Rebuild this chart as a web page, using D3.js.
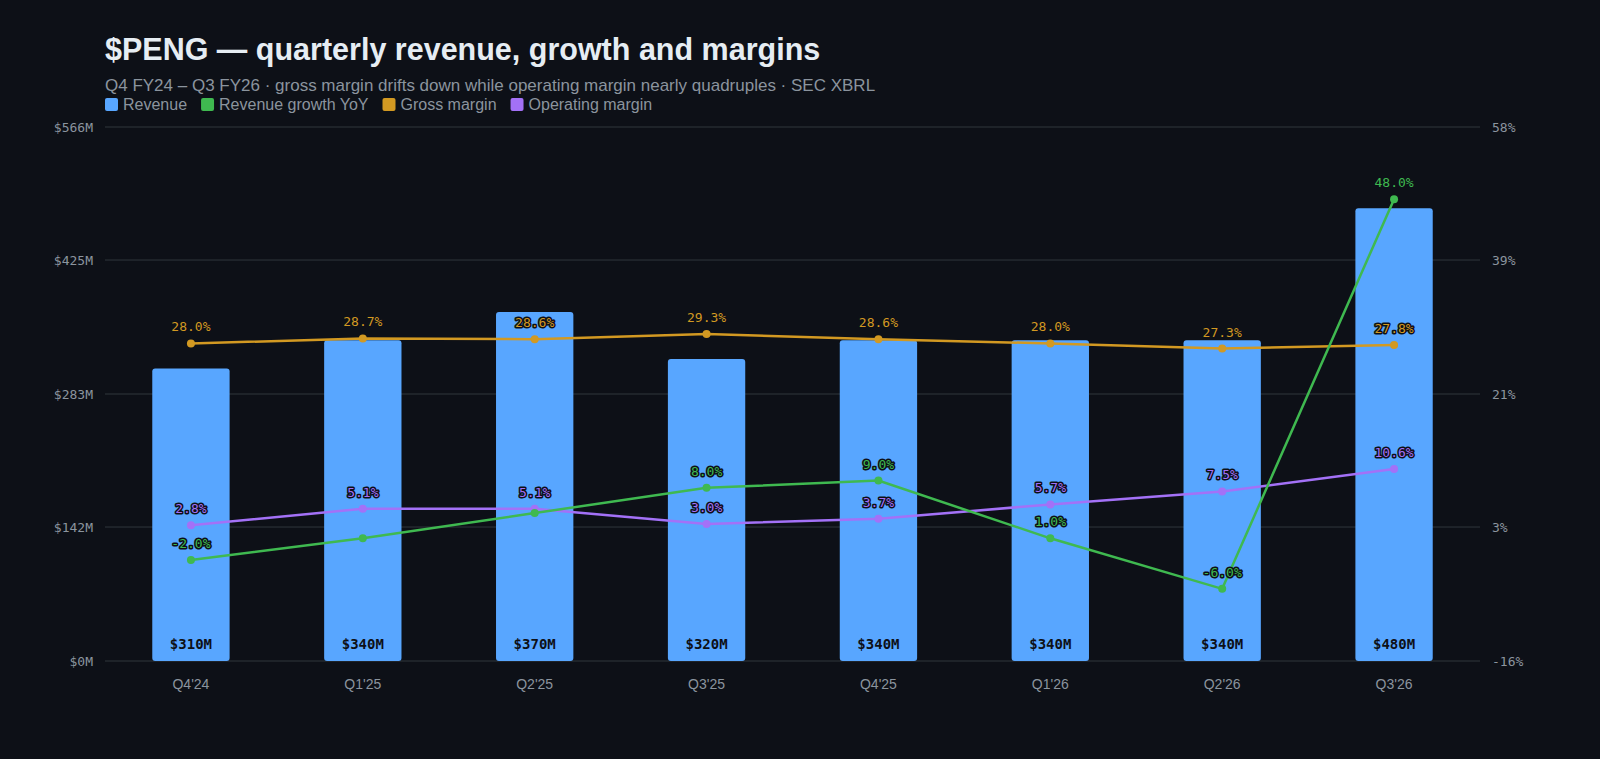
<!DOCTYPE html>
<html><head><meta charset="utf-8">
<script src="https://cdn.jsdelivr.net/npm/d3@7"></script>
<style>body{margin:0;background:#0d1017;}svg{display:block}</style>
</head><body><svg id="c" width="1600" height="759"></svg>
<script>
const quarters=["Q4'24","Q1'25","Q2'25","Q3'25","Q4'25","Q1'26","Q2'26","Q3'26"];
const revenue=[310,340,370,320,340,340,340,480];
const growth=[-2.0,1.0,4.5,8.0,9.0,1.0,-6.0,48.0];
const growthShown=[true,false,false,true,true,true,true,true];
const gross=[28.0,28.7,28.6,29.3,28.6,28.0,27.3,27.8];
const opm=[2.8,5.1,5.1,3.0,3.7,5.7,7.5,10.6];
const leftTicks=[0,142,283,425,566];
const rightTicks=[-16,2.5,21,39.5,58];
const rightTickLabels=["-16%","3%","21%","39%","58%"];

const svg=d3.select("#c");
const bg="#0d1017";
const L=105,R=1480,T=127,B=661;
const x=d3.scaleBand().domain(quarters).range([L,R]).paddingInner(0.55).paddingOuter(0.275);
const yL=d3.scaleLinear().domain([0,566]).range([B,T]);
const yR=d3.scaleLinear().domain([-16,58]).range([B,T]);
const mono="'DejaVu Sans Mono','Liberation Mono',monospace";
const sans="'Helvetica Neue',Arial,'Liberation Sans',sans-serif";

svg.append("text").attr("x",L).attr("y",60).attr("fill","#e6edf3").attr("font-family",sans).attr("font-weight","bold").attr("font-size",30.5).text("$PENG — quarterly revenue, growth and margins");
svg.append("text").attr("x",L).attr("y",91).attr("fill","#8b949e").attr("font-family",sans).attr("font-size",17).text("Q4 FY24 – Q3 FY26 · gross margin drifts down while operating margin nearly quadruples · SEC XBRL");
const leg=[["Revenue","#58a6ff"],["Revenue growth YoY","#3fb950"],["Gross margin","#d29922"],["Operating margin","#a371f7"]];
let lx=L;
leg.forEach(([t,c])=>{
  const g=svg.append("g");
  g.append("rect").attr("x",lx).attr("y",98).attr("width",13).attr("height",13).attr("rx",2).attr("fill",c);
  const tx=g.append("text").attr("x",lx+18).attr("y",110).attr("fill","#8b949e").attr("font-family",sans).attr("font-size",16).text(t);
  lx+=18+tx.node().getComputedTextLength()+14;
});

svg.append("g").selectAll("line").data(leftTicks).join("line")
 .attr("x1",L).attr("x2",R).attr("y1",d=>yL(d)).attr("y2",d=>yL(d)).attr("stroke","#30363d").attr("stroke-width",1);
const fmtL=d=>"$"+d+"M";
const ga=svg.append("g").attr("transform",`translate(${L},0)`).call(d3.axisLeft(yL).tickValues(leftTicks).tickFormat(fmtL).tickSize(0).tickPadding(12));
const gb=svg.append("g").attr("transform",`translate(${R},0)`).call(d3.axisRight(yR).tickValues(rightTicks).tickFormat((d,i)=>rightTickLabels[i]).tickSize(0).tickPadding(12));
const gx=svg.append("g").attr("transform",`translate(0,${B})`).call(d3.axisBottom(x).tickSize(0).tickPadding(18));
[ga,gb].forEach(g=>{g.select(".domain").remove();g.selectAll("text").attr("fill","#8b949e").attr("font-family",mono).attr("font-size",13);});
gx.select(".domain").remove();gx.selectAll("text").attr("fill","#8b949e").attr("font-family",sans).attr("font-size",14);

svg.append("g").selectAll("rect").data(revenue).join("rect")
 .attr("x",(d,i)=>x(quarters[i])).attr("width",x.bandwidth()).attr("y",d=>yL(d)).attr("height",d=>B-yL(d)).attr("rx",3).attr("fill","#58a6ff");
svg.append("g").selectAll("text").data(revenue).join("text")
 .attr("x",(d,i)=>x(quarters[i])+x.bandwidth()/2).attr("y",B-12).attr("text-anchor","middle")
 .attr("font-family",mono).attr("font-weight","bold").attr("font-size",14).attr("fill","#0d1017").text(d=>"$"+d+"M");

function series(vals,color,shown){
  const cx=i=>x(quarters[i])+x.bandwidth()/2;
  svg.append("path").datum(vals).attr("fill","none").attr("stroke",color).attr("stroke-width",2.5)
   .attr("d",d3.line().x((d,i)=>cx(i)).y(d=>yR(d)));
  svg.append("g").selectAll("circle").data(vals).join("circle").attr("cx",(d,i)=>cx(i)).attr("cy",d=>yR(d)).attr("r",4).attr("fill",color);
  svg.append("g").selectAll("text").data(vals.map((v,i)=>({v,i})).filter(d=>!shown||shown[d.i])).join("text")
   .attr("x",d=>cx(d.i)).attr("y",d=>yR(d.v)-12).attr("text-anchor","middle")
   .attr("font-family",mono).attr("font-size",13).attr("fill",color)
   .attr("stroke",bg).attr("stroke-width",3).attr("paint-order","stroke").attr("stroke-linejoin","round")
   .text(d=>d.v.toFixed(1)+"%");
}
series(gross,"#d29922");
series(opm,"#a371f7");
series(growth,"#3fb950",growthShown);
</script></body></html>
